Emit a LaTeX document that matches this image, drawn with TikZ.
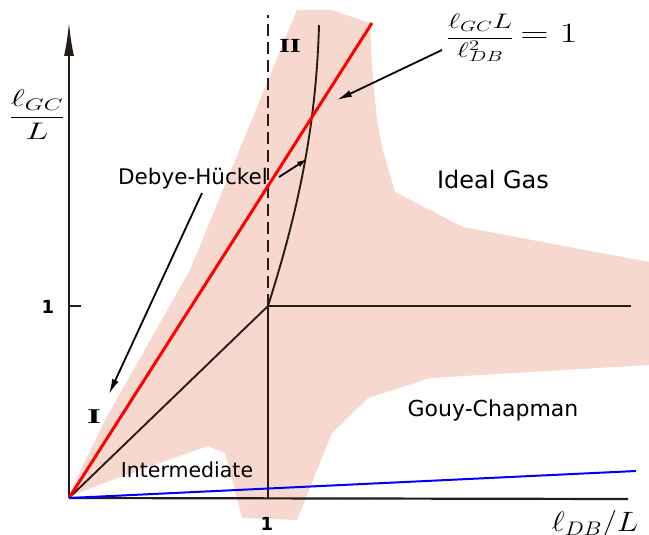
\RequirePackage{fix-cm}
\documentclass[tikz,border=0pt]{standalone}
\usepackage{fontspec}
\setsansfont{DejaVu Sans}
\newfontfamily\romfont{Liberation Serif}
\usepackage{graphicx}
\usetikzlibrary{arrows.meta}
\definecolor{pinkfill}{RGB}{246,216,206}
\definecolor{ink}{RGB}{40,28,24}
\tikzset{
  lbl/.style={font=\sffamily, text=black, inner sep=0pt},
  blk/.style={draw=ink, line width=1.9pt},
  ptr/.style={draw=black, line width=1.8pt, -{Latex[length=15pt,width=7pt]}},
}
\begin{document}
\begin{tikzpicture}[x=1pt,y=-1pt]
\useasboundingbox (0,0) rectangle (649,535);
% pink region
\fill[pinkfill] (68,497) -- (105,420) -- (190,270) -- (297,10) -- (332,10) -- (370,23)
  -- (372,67) -- (377,120) -- (382,147) -- (395,192) -- (463,227) -- (649,262)
  -- (649,365) -- (430,378) -- (368,398) -- (332,433) -- (297,520) -- (242,518)
  -- (235,490) -- (225,453) -- (208,446) -- (120,477) -- cycle;
% key points
\coordinate (O) at (69,498);
\coordinate (Ytop) at (69,22);
\coordinate (Xend) at (628,499);
\coordinate (T0) at (69,306);
\coordinate (T1) at (81,306);
\coordinate (P1) at (268,306);
\coordinate (Vb) at (268,499);
\coordinate (Dt) at (268,15);
\coordinate (H1) at (631,306);
\coordinate (C1) at (319,25);
\coordinate (R1) at (372,23);
\coordinate (B1) at (636,471);
% axes
\draw[draw=ink, line width=2.2pt, -{Latex[length=34pt,width=10pt]}] (O) -- (Ytop);
\draw[draw=ink, line width=2.2pt] (O) -- (Xend);
\draw[draw=ink, line width=1.9pt] (T0) -- (T1);
% regime boundaries
\draw[blk] (Vb) -- (P1);
\draw[blk, dash pattern=on 12pt off 6pt] (P1) -- (Dt);
\draw[blk] (P1) -- (H1);
\draw[blk] (O) -- (P1);
\draw[blk] (P1) .. controls (292,230) and (316,140) .. (C1);
% coloured lines
\draw[red, line width=3pt] (O) -- (R1);
\draw[blue, line width=2pt] (O) -- (B1);
% labels
\node[lbl, font=\sffamily\fontsize{21.5}{26}\selectfont] (dh) at (193,179) {Debye-Hückel};
\node[lbl, font=\sffamily\fontsize{24}{28}\selectfont] (ig) at (493,180) {Ideal Gas};
\node[lbl, font=\sffamily\fontsize{22}{26}\selectfont] (gc) at (493,410) {Gouy-Chapman};
\node[lbl, font=\sffamily\fontsize{20.5}{24}\selectfont] (im) at (187,470) {Intermediate};
\node[lbl, font=\romfont\bfseries\fontsize{21}{24}\selectfont] (r1) at (94,417) {\scalebox{1.7}[1]{I}};
\node[lbl, font=\romfont\bfseries\fontsize{20}{24}\selectfont] (r2) at (290,46) {\scalebox{1.4}[1]{II}};
\node[lbl, font=\sffamily\bfseries\fontsize{18}{22}\selectfont] (ty) at (48,307) {1};
\node[lbl, font=\sffamily\bfseries\fontsize{18}{22}\selectfont] (tx) at (267,524) {1};
\node[inner sep=0pt] (fy) at (37,115) {\fontsize{24}{28}\selectfont\scalebox{1.45}[1]{$\displaystyle\frac{\ell_{GC}}{L}$}};
\node[inner sep=0pt, anchor=base] (fx) at (595,531) {\fontsize{28}{32}\selectfont\scalebox{1.15}[1]{$\ell_{DB}/L$}};
\node[inner sep=0pt] (fml) at (512,38) {\scalebox{1.4}[1]{{\fontsize{21}{26}\selectfont$\displaystyle\frac{\ell_{GC}L}{\ell_{DB}^2}$}{\fontsize{28}{32}\selectfont$\,=1$}}};
% pointers
\coordinate (As) at (442,50);
\coordinate (At) at (337,100);
\coordinate (Bs) at (279,177);
\coordinate (Bt) at (307,159);
\coordinate (Cs) at (202,193);
\coordinate (Ct) at (109,394);
\draw[ptr] (As) -- (At);
\draw[ptr, -{Latex[length=10pt,width=6pt]}] (Bs) -- (Bt);
\draw[ptr] (Cs) -- (Ct);
\end{tikzpicture}
\end{document}
